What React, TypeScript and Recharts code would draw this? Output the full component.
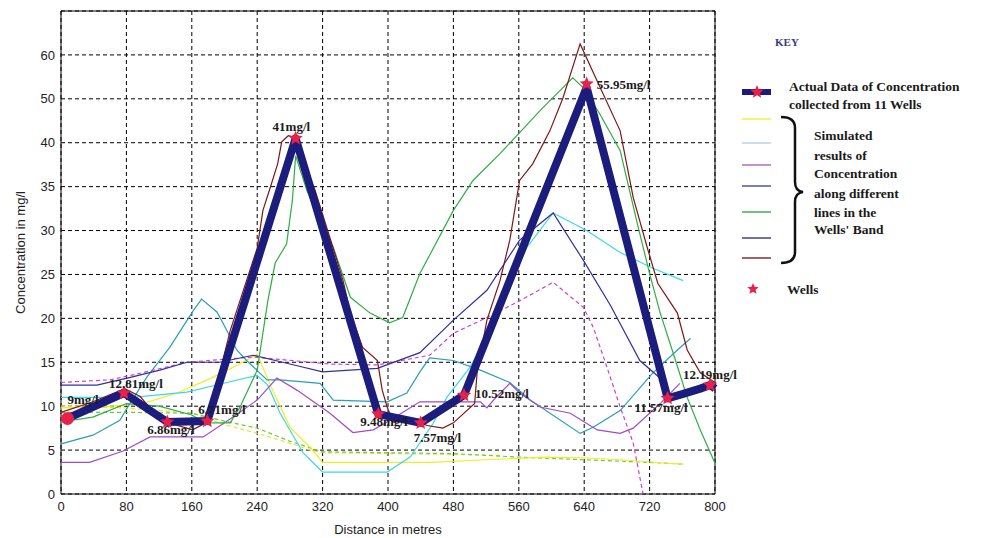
import React from "react";
import {
  CartesianGrid,
  ComposedChart,
  Label,
  Line,
  ReferenceArea,
  Scatter,
  XAxis,
  YAxis,
} from "recharts";

// the y axis of the original is broken: 0..40 in steps of 5, then 40..60 in steps of 10
const toAxis = (v: number) => (v <= 40 ? v : 40 + (v - 40) / 2);
const fromAxis = (u: number) => (u <= 40 ? u : 40 + (u - 40) * 2);

const xTicks = [0, 80, 160, 240, 320, 400, 480, 560, 640, 720, 800];
const yTickLabels = [0, 5, 10, 15, 20, 25, 30, 35, 40, 50, 60];

// wells (actual data)
const wellDist = [8, 77, 130, 179, 287, 388, 440, 493, 643, 742, 794];
const wellConc = [8.6, 11.5, 8.2, 8.3, 41, 9.1, 8.1, 11.25, 53.4, 10.9, 12.4];
const wellLabels = [
  "9mg/l", "12.81mg/l", "6.86mg/l", "6.71mg/l", "41mg/l", "9.48mg/l",
  "7.57mg/l", "10.52mg/l", "55.95mg/l", "11.57mg/l", "12.19mg/l",
];
const actualDist = [8, 77, 130, 179, 287, 388, 440, 493, 643, 742, 761, 782, 794, 800];
const actualConc = [8.6, 11.5, 8.2, 8.3, 41, 9.1, 8.1, 11.25, 52.6, 10.9, 11.4, 12.0, 12.4, 12.0];

// simulated lines
const yellowDist = [0, 48, 100, 142, 179, 210, 240, 259, 280, 305, 320, 451, 521, 594, 643, 684, 741, 761];
const yellowConc = [9.8, 9.9, 10.3, 11.5, 13.0, 14.4, 15.9, 11.8, 7.6, 5.3, 3.6, 3.6, 3.9, 4.2, 4.1, 3.9, 3.5, 3.4];

const cyanDist = [0, 88, 154, 203, 240, 253, 268, 296, 320, 399, 427, 455, 472, 500, 521, 546, 570, 602, 643, 684, 724, 761];
const cyanConc = [11.0, 11.0, 11.6, 12.7, 13.5, 12.4, 9.2, 4.7, 2.5, 2.5, 4.2, 8.0, 11.0, 14.4, 17.8, 23.2, 28.1, 32.0, 30.0, 27.5, 25.7, 24.3];

const tealDist = [0, 39, 72, 81, 105, 133, 162, 172, 191, 203, 215, 227, 252, 268, 317, 333, 399, 423, 439, 451, 480, 513, 549, 574, 635, 651, 684, 724, 754, 770];
const tealConc = [5.7, 6.7, 8.4, 9.8, 13.3, 16.7, 20.9, 22.2, 20.7, 18.6, 16.4, 15.2, 13.0, 13.0, 12.6, 10.7, 10.5, 11.5, 13.9, 15.5, 15.2, 14.1, 12.7, 10.7, 6.9, 7.6, 9.5, 13.8, 16.4, 17.7];

const purpleDist = [0, 35, 76, 109, 174, 210, 240, 264, 289, 329, 357, 382, 399, 439, 513, 521, 531, 549, 561, 586, 623, 656, 684, 700, 733, 757];
const purpleConc = [3.6, 3.6, 4.9, 6.5, 6.5, 8.75, 10.7, 13.2, 11.8, 9.2, 7.0, 7.3, 8.2, 10.5, 10.5, 9.8, 10.9, 12.6, 11.5, 9.9, 9.2, 7.3, 6.9, 7.5, 10.3, 12.6];

const navyDist = [0, 44, 81, 121, 154, 194, 235, 280, 320, 387, 439, 480, 521, 561, 602, 639, 672, 708, 739];
const navyConc = [12.4, 12.4, 13.2, 14.1, 15.0, 15.0, 15.8, 14.8, 13.9, 14.3, 16.1, 19.8, 23.2, 28.9, 32.0, 26.6, 21.5, 15.2, 12.7];

const greenDist = [0, 39, 80, 120, 160, 175, 207, 219, 240, 253, 262, 276, 283, 287, 301, 333, 354, 378, 402, 418, 439, 480, 504, 537, 586, 626, 639, 659, 684, 705, 720, 733, 749, 766, 782, 800];
const greenConc = [8.2, 8.75, 10.3, 10.0, 9.0, 8.1, 8.1, 9.9, 14.1, 22.0, 26.3, 28.5, 33.4, 38.5, 34.5, 28.1, 22.4, 20.6, 19.5, 20.1, 25.1, 32.3, 35.7, 38.75, 47.3, 54.8, 52.5, 46.6, 39.1, 30.8, 25.1, 20.6, 16.0, 11.0, 7.3, 3.5];

const brownDist = [0, 39, 78, 97, 121, 161, 179, 207, 240, 247, 256, 265, 270, 278, 284, 311, 333, 345, 354, 369, 387, 393, 399, 406, 431, 448, 467, 480, 506, 509, 521, 537, 549, 561, 577, 598, 614, 635, 656, 684, 700, 717, 730, 754, 766, 782, 800];
const brownConc = [9.3, 10.5, 12.0, 11.1, 8.4, 7.3, 8.2, 18.6, 28.0, 32.3, 34.9, 37.6, 40.2, 41.6, 41.3, 34.5, 28.0, 24.3, 20.6, 16.7, 15.2, 11.8, 9.9, 8.2, 8.4, 7.8, 7.5, 8.1, 10.3, 13.8, 19.8, 24.3, 28.9, 35.7, 37.6, 42.7, 50.2, 62.5, 54.0, 42.7, 33.75, 28.1, 24.0, 20.6, 16.4, 13.8, 12.7];

const magentaDist = [0, 60, 97, 154, 235, 329, 387, 451, 480, 521, 561, 602, 639, 651, 668, 684, 700, 712];
const magentaConc = [12.7, 13.0, 13.75, 15.0, 15.6, 14.8, 14.7, 15.8, 18.3, 20.1, 22.0, 24.1, 21.25, 19.0, 14.4, 9.9, 5.8, 0];

const greenDashDist = [0, 80, 160, 200, 240, 280, 320, 400, 480, 560, 640, 720, 761];
const greenDashConc = [9.3, 9.3, 9.2, 8.3, 7.5, 6.0, 4.8, 4.7, 4.6, 4.2, 3.9, 3.6, 3.4];

const yellowDashDist = [0, 80, 120, 160, 200, 240, 280, 305, 320, 400, 480, 540];
const yellowDashConc = [10.0, 9.8, 9.5, 9.2, 7.9, 6.9, 5.8, 5.0, 4.7, 4.6, 4.5, 4.4];

const series = (dist: number[], conc: number[]) =>
  dist.map((d, i) => ({ d, c: toAxis(conc[i]) }));

const thinLines = [
  { key: "yellowDash", data: series(yellowDashDist, yellowDashConc), color: "#e4e43a", dash: "4 3" },
  { key: "greenDash", data: series(greenDashDist, greenDashConc), color: "#6ccc3c", dash: "4 3" },
  { key: "yellow", data: series(yellowDist, yellowConc), color: "#eeee22" },
  { key: "cyan", data: series(cyanDist, cyanConc), color: "#3ed6e6" },
  { key: "teal", data: series(tealDist, tealConc), color: "#2a9fb6" },
  { key: "purple", data: series(purpleDist, purpleConc), color: "#a04cc6" },
  { key: "magenta", data: series(magentaDist, magentaConc), color: "#d040d0", dash: "4 3" },
  { key: "navy", data: series(navyDist, navyConc), color: "#3030a0" },
  { key: "green", data: series(greenDist, greenConc), color: "#2eae42" },
  { key: "brown", data: series(brownDist, brownConc), color: "#7e1616" },
];

const actualData = series(actualDist, actualConc);
const wellData = wellDist.map((d, i) => ({ d, c: toAxis(wellConc[i]), label: wellLabels[i], i }));

// where each well's label sits relative to its star
const labelOffsets = [
  [0, -14], [-15, -5], [-20, 12], [-9, -7], [-23, -7], [-18, 12],
  [-7, 19], [11, 3], [10, 5], [-33, 14], [-27, -6],
];

const NAVY = "#1c1c7c";
const RED = "#e8204a";

function starPath(cx: number, cy: number, r: number) {
  const pts: string[] = [];
  for (let k = 0; k < 10; k++) {
    const rad = k % 2 === 0 ? r : r * 0.45;
    const a = -Math.PI / 2 + (k * Math.PI) / 5;
    pts.push(`${cx + rad * Math.cos(a)},${cy + rad * Math.sin(a)}`);
  }
  return `M${pts.join("L")}Z`;
}

function WellMark(props: any) {
  const { cx, cy, payload } = props;
  if (cx == null || cy == null) return null;
  const [dx, dy] = labelOffsets[payload.i];
  return (
    <g>
      {payload.i === 0 ? (
        <circle cx={cx} cy={cy} r={6.5} fill={RED} />
      ) : (
        <path d={starPath(cx, cy, 7.5)} fill={RED} />
      )}
      <text
        x={cx + dx}
        y={cy + dy}
        fontFamily="Liberation Serif"
        fontWeight="bold"
        fontSize={13}
        fill="#1a1a1a"
      >
        {payload.label}
      </text>
    </g>
  );
}

const legendLines = [
  { y: 119, color: "#f0f040" },
  { y: 143, color: "#b8d4e8" },
  { y: 165, color: "#b070c0" },
  { y: 186, color: "#5050a8" },
  { y: 212, color: "#40b050" },
  { y: 238, color: "#404090" },
  { y: 258, color: "#803030" },
];
const legendText = ["Simulated", "results of", "Concentration", "along different", "lines in the", "Wells' Band"];
const legendTextY = [140, 160, 178, 198, 217, 234];

function Key() {
  const serif = { fontFamily: "Liberation Serif", fontWeight: "bold" as const };
  return (
    <svg
      width={988}
      height={538}
      style={{ position: "absolute", left: 0, top: 0, pointerEvents: "none" }}
    >
      <text x={775} y={46} fontSize={11} fill="#3a3a80" {...serif}>KEY</text>
      <line x1={742} x2={771} y1={92} y2={92} stroke={NAVY} strokeWidth={6} />
      <path d={starPath(757, 92, 7)} fill={RED} />
      <text x={789} y={91} fontSize={13.5} fill="#1a1a1a" {...serif}>Actual Data of Concentration</text>
      <text x={789} y={109} fontSize={13.5} fill="#1a1a1a" {...serif}>collected from 11 Wells</text>
      {legendLines.map((l) => (
        <line key={l.y} x1={742} x2={771} y1={l.y} y2={l.y} stroke={l.color} strokeWidth={1.5} />
      ))}
      <path
        d="M781,117 Q795,117 795,128 L795,182 Q795,191 803,192 Q795,193 795,202 L795,252 Q795,263 781,263"
        fill="none"
        stroke="#111"
        strokeWidth={2.5}
      />
      {legendText.map((t, i) => (
        <text key={t} x={814} y={legendTextY[i]} fontSize={13.5} fill="#1a1a1a" {...serif}>{t}</text>
      ))}
      <path d={starPath(753, 289, 6)} fill={RED} />
      <text x={787} y={294} fontSize={13.5} fill="#1a1a1a" {...serif}>Wells</text>
    </svg>
  );
}

export default function App() {
  return (
    <div style={{ position: "absolute", left: 0, top: 0, width: 988, height: 538, background: "#fff" }}>
      <ComposedChart
        width={988}
        height={538}
        margin={{ top: 11, right: 273, bottom: 0, left: 0 }}
      >
        <CartesianGrid stroke="#000" strokeDasharray="4 3" strokeWidth={1} />
        <XAxis
          type="number"
          dataKey="d"
          domain={[0, 800]}
          ticks={xTicks}
          height={44}
          axisLine={false}
          tickLine={false}
          tickSize={4}
          tickMargin={4}
          tick={{ fontFamily: "Liberation Sans", fontSize: 13, fill: "#222" }}
        >
          <Label
            value="Distance in metres"
            position="insideBottom"
            offset={4}
            style={{ fontFamily: "Liberation Sans", fontSize: 13, fill: "#222" }}
          />
        </XAxis>
        <YAxis
          type="number"
          dataKey="c"
          domain={[0, 55]}
          ticks={yTickLabels.map(toAxis)}
          tickFormatter={(u: number) => String(Math.round(fromAxis(u)))}
          width={61}
          axisLine={false}
          tickLine={false}
          tickSize={3}
          tickMargin={3}
          tick={{ fontFamily: "Liberation Sans", fontSize: 13, fill: "#222" }}
        >
          <Label
            value="Concentration in mg/l"
            angle={-90}
            position="center"
            dx={-10}
            style={{ fontFamily: "Liberation Sans", fontSize: 13, fill: "#222", textAnchor: "middle" }}
          />
        </YAxis>
        <ReferenceArea x1={0} x2={800} y1={0} y2={55} fill="none" stroke="#000" strokeWidth={1} ifOverflow="visible" />
        {thinLines.map((s) => (
          <Line
            key={s.key}
            data={s.data}
            dataKey="c"
            type="linear"
            stroke={s.color}
            strokeWidth={1.2}
            strokeDasharray={s.dash}
            dot={false}
            activeDot={false}
            isAnimationActive={false}
          />
        ))}
        <Line
          data={actualData}
          dataKey="c"
          type="linear"
          stroke={NAVY}
          strokeWidth={8}
          strokeLinejoin="round"
          dot={false}
          activeDot={false}
          isAnimationActive={false}
        />
        <Scatter
          data={wellData}
          dataKey="c"
          shape={(p: any) => <WellMark {...p} />}
          isAnimationActive={false}
        />
      </ComposedChart>
      <Key />
    </div>
  );
}
